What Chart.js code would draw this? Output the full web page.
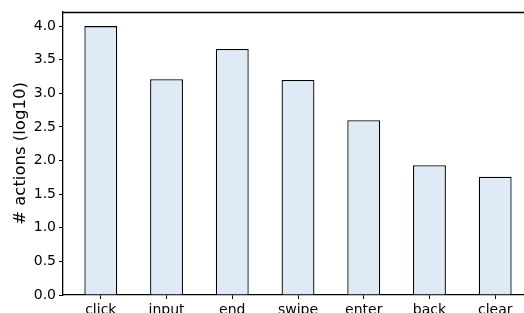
<!DOCTYPE html>
<html>
<head>
<meta charset="utf-8">
<script src="https://cdn.jsdelivr.net/npm/chart.js@4.4.1/dist/chart.umd.min.js"></script>
<style>
    html, body { margin: 0; padding: 0; background: #fff; overflow: hidden; }
    #wrap { width: 524px; height: 313px; overflow: hidden; }
</style>
</head>
<body>
<div id="wrap"><canvas id="chart" width="534" height="313"></canvas></div>
<script>
// Action counts per type (log10)
const categories = ['click', 'input', 'end', 'swipe', 'enter', 'back', 'clear'];
const actionCounts = [4.0, 3.21, 3.66, 3.20, 2.60, 1.93, 1.76];
const yTicks = [0, 0.5, 1, 1.5, 2, 2.5, 3, 3.5, 4];

const FONT = '"DejaVu Sans", sans-serif';

// matplotlib-style top spine
const topSpine = {
    id: 'topSpine',
    afterDraw(chart) {
        const { ctx, chartArea } = chart;
        ctx.save();
        ctx.strokeStyle = '#000';
        ctx.lineWidth = 1.3;
        ctx.beginPath();
        ctx.moveTo(chartArea.left, chartArea.top + 0.5);
        ctx.lineTo(chartArea.right, chartArea.top + 0.5);
        ctx.stroke();
        ctx.restore();
    }
};

new Chart(document.getElementById('chart'), {
    type: 'bar',
    data: {
        datasets: [{
            data: categories.map((c, i) => ({ x: i, y: actionCounts[i] })),
            backgroundColor: '#deebf7',
            borderColor: '#000',
            borderWidth: 1.3,
            barPercentage: 0.5,
            categoryPercentage: 1
        }]
    },
    options: {
        responsive: false,
        animation: false,
        layout: { padding: { top: 12, right: 1, left: 0, bottom: 0 } },
        plugins: {
            legend: { display: false },
            tooltip: { enabled: false }
        },
        scales: {
            x: {
                type: 'linear',
                offset: false,
                min: -0.575,
                max: 6.575,
                afterBuildTicks: (scale) => {
                    scale.ticks = categories.map((c, i) => ({ value: i }));
                },
                afterFit: (scale) => { scale.height = 18; },
                grid: {
                    offset: false,
                    drawOnChartArea: false,
                    tickLength: 4,
                    tickColor: '#000'
                },
                border: { color: '#000', width: 1.3 },
                ticks: {
                    color: '#000',
                    font: { family: FONT, size: 14 },
                    padding: 3,
                    maxRotation: 0,
                    autoSkip: false,
                    callback: (v) => categories[v]
                }
            },
            y: {
                min: 0,
                max: 4.21,
                afterBuildTicks: (scale) => {
                    scale.ticks = yTicks.map(v => ({ value: v }));
                },
                afterFit: (scale) => { scale.width = 63; },
                grid: {
                    drawOnChartArea: false,
                    tickLength: 4,
                    tickColor: '#000'
                },
                border: { color: '#000', width: 1.3 },
                ticks: {
                    color: '#000',
                    font: { family: FONT, size: 14 },
                    padding: 3,
                    callback: (v) => v.toFixed(1)
                },
                title: {
                    display: true,
                    text: '# actions (log10)',
                    color: '#000',
                    font: { family: FONT, size: 16.5 },
                    padding: { top: 11, bottom: 0 }
                }
            }
        }
    },
    plugins: [topSpine]
});
</script>
</body>
</html>
